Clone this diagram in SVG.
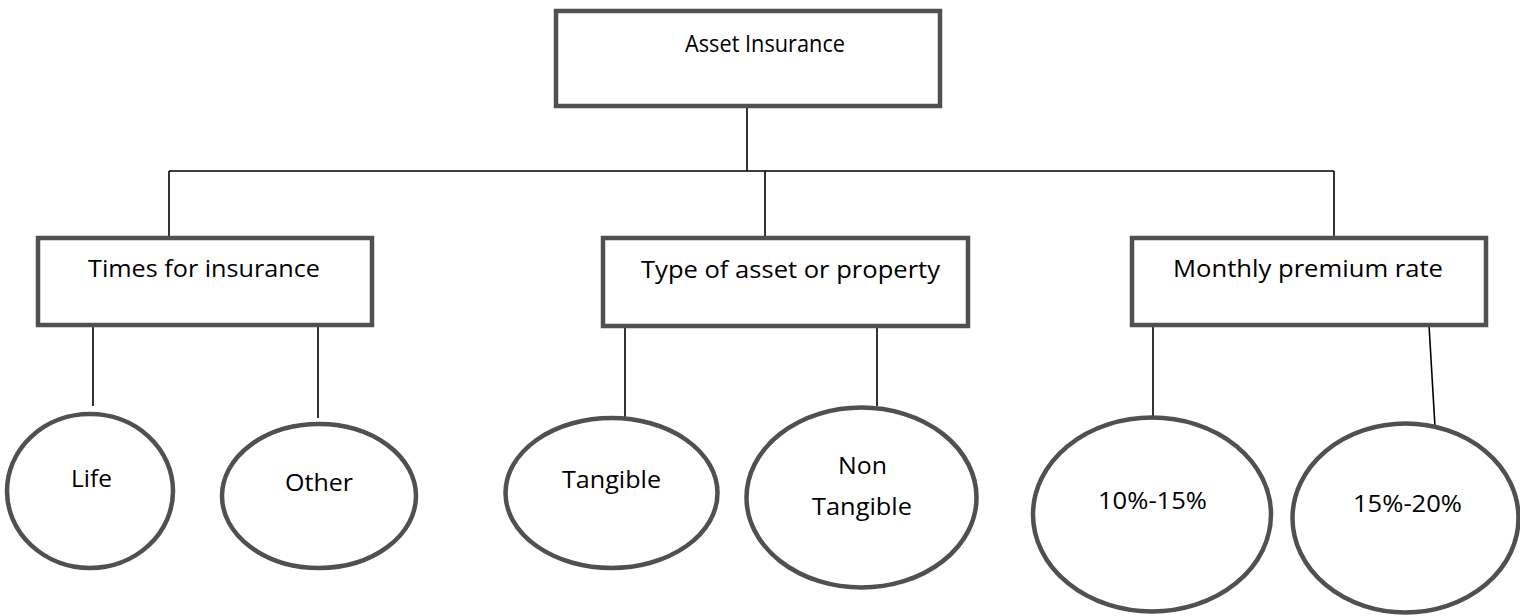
<svg xmlns="http://www.w3.org/2000/svg" width="1520" height="616" viewBox="0 0 1520 616">
  <style>
    .box { fill: #ffffff; stroke: #505050; stroke-width: 4.5; }
    .oval { fill: #ffffff; stroke: #505050; stroke-width: 4.5; }
    .link { fill: none; stroke: #000000; stroke-width: 1.6; }
    .lbl { font-family: "Open Sans", "Liberation Sans", sans-serif; font-size: 24px; fill: #000000; }
  </style>
  <rect width="1520" height="616" fill="#ffffff"/>

  <!-- connectors -->
  <g id="connectors">
    <path class="link" d="M747 106 V171 M169 171 H1334 M169 171 V237 M765 171 V237 M1334 171 V237"/>
    <path class="link" d="M93 325 V406 M318 325 V418"/>
    <path class="link" d="M625 326 V423 M877 326 V406"/>
    <path class="link" d="M1153 325 V427 M1429 325 L1435 427"/>
  </g>

  <g id="asset-insurance">
    <rect class="box" x="556" y="11" width="384" height="95"/>
    <text class="lbl" x="685" y="52" textLength="160" lengthAdjust="spacingAndGlyphs">Asset Insurance</text>
  </g>

  <g id="times-for-insurance">
    <rect class="box" x="38" y="238" width="334" height="87"/>
    <text class="lbl" x="88" y="277" textLength="232" lengthAdjust="spacingAndGlyphs">Times for insurance</text>
  </g>

  <g id="type-of-asset">
    <rect class="box" x="603" y="238" width="365" height="88"/>
    <text class="lbl" x="641" y="278" textLength="299" lengthAdjust="spacingAndGlyphs">Type of asset or property</text>
  </g>

  <g id="monthly-premium">
    <rect class="box" x="1132" y="238" width="354" height="87"/>
    <text class="lbl" x="1173" y="277" textLength="270" lengthAdjust="spacingAndGlyphs">Monthly premium rate</text>
  </g>

  <g id="life">
    <ellipse class="oval" cx="90" cy="491" rx="83" ry="77"/>
    <text class="lbl" x="71" y="487" textLength="41" lengthAdjust="spacingAndGlyphs">Life</text>
  </g>

  <g id="other">
    <ellipse class="oval" cx="319" cy="496" rx="97" ry="72"/>
    <text class="lbl" x="285" y="491" textLength="68" lengthAdjust="spacingAndGlyphs">Other</text>
  </g>

  <g id="tangible">
    <ellipse class="oval" cx="611.5" cy="493" rx="106" ry="75"/>
    <text class="lbl" x="562" y="488" textLength="99" lengthAdjust="spacingAndGlyphs">Tangible</text>
  </g>

  <g id="non-tangible">
    <ellipse class="oval" cx="861.5" cy="497.5" rx="115" ry="90"/>
    <text class="lbl" x="838" y="474" textLength="49" lengthAdjust="spacingAndGlyphs">Non</text>
    <text class="lbl" x="812" y="515" textLength="100" lengthAdjust="spacingAndGlyphs">Tangible</text>
  </g>

  <g id="rate-10-15">
    <ellipse class="oval" cx="1152" cy="514.5" rx="119" ry="97"/>
    <text class="lbl" x="1098" y="509" textLength="109" lengthAdjust="spacingAndGlyphs">10%-15%</text>
  </g>

  <g id="rate-15-20">
    <ellipse class="oval" cx="1405.5" cy="518" rx="113" ry="94.5"/>
    <text class="lbl" x="1353" y="512" textLength="109" lengthAdjust="spacingAndGlyphs">15%-20%</text>
  </g>
</svg>
